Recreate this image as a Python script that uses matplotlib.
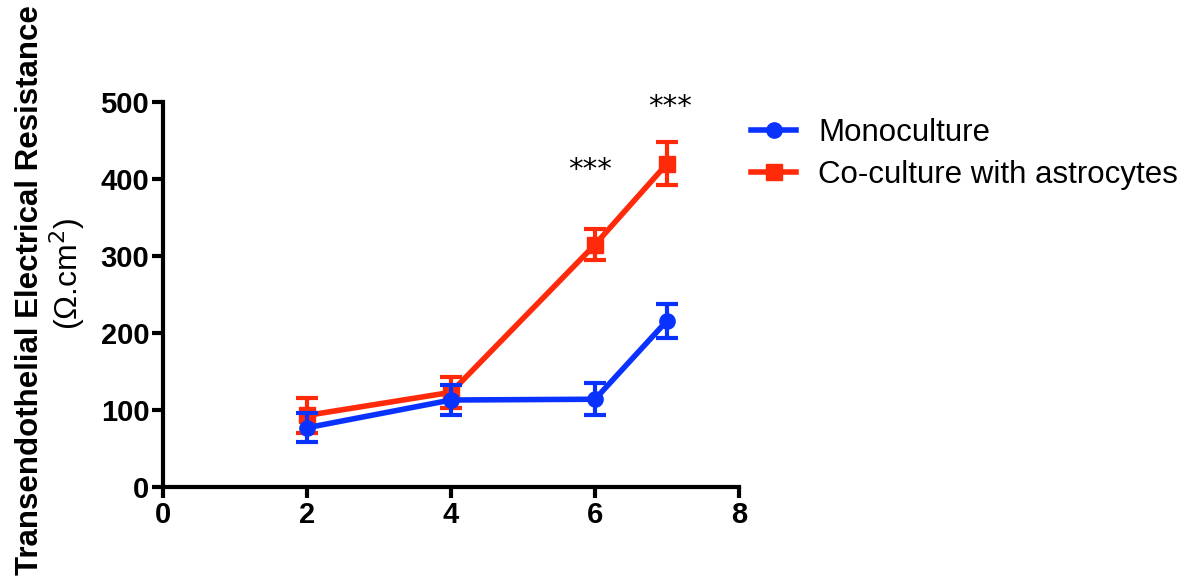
import numpy as np
import matplotlib.pyplot as plt

plt.rcParams['font.family'] = ['Liberation Sans', 'DejaVu Sans']

days = [2, 4, 6, 7]
mono = [77, 113, 114, 216]
mono_err = [19, 19, 21, 22]
cocult = [93, 123, 315, 420]
cocult_err = [23, 20, 20, 28]
stars_x = [5.93, 7.04]
stars_y = [412, 494]

blue = '#0A32FF'
red = '#FF2A0A'

fig = plt.figure(figsize=(11.91, 5.77), dpi=100)
ax = fig.add_axes([0.137, 0.156, 0.4835, 0.667])

ax.errorbar(days, mono, yerr=mono_err, color=blue, lw=4, marker='o', ms=11,
            capsize=8, capthick=3, elinewidth=3, label='Monoculture', zorder=3)
ax.errorbar(days, cocult, yerr=cocult_err, color=red, lw=4, marker='s', ms=11,
            capsize=8, capthick=3, elinewidth=3, label='Co-culture with astrocytes', zorder=2)

for sx, sy in zip(stars_x, stars_y):
    ax.text(sx, sy, '***', ha='center', va='center', fontsize=21,
            family='DejaVu Sans', clip_on=False)

ax.set_xlim(0, 8)
ax.set_ylim(0, 500)
ax.set_xticks([0, 2, 4, 6, 8])
ax.set_yticks([0, 100, 200, 300, 400, 500])
for s in ['top', 'right']:
    ax.spines[s].set_visible(False)
for s in ['left', 'bottom']:
    ax.spines[s].set_linewidth(3)
ax.tick_params(width=3, length=8, labelsize=21, pad=2)
for lab in ax.get_xticklabels() + ax.get_yticklabels():
    lab.set_fontweight('bold')

fig.text(0.025, 0.497, 'Transendothelial Electrical Resistance', rotation=90,
         ha='center', va='center', fontsize=22.5, fontweight='bold')
fig.text(0.056, 0.525, '(\u03a9.cm$^2$)', rotation=90, ha='center', va='center',
         fontsize=23)

h, l = ax.get_legend_handles_labels()
h = [x[0] for x in h]
fig.legend(h, l, loc='center left', bbox_to_anchor=(0.607, 0.733), frameon=False,
           fontsize=22.5, handlelength=1.45, handletextpad=0.7, labelspacing=0.4)

fig.savefig('out.png', dpi=100)
